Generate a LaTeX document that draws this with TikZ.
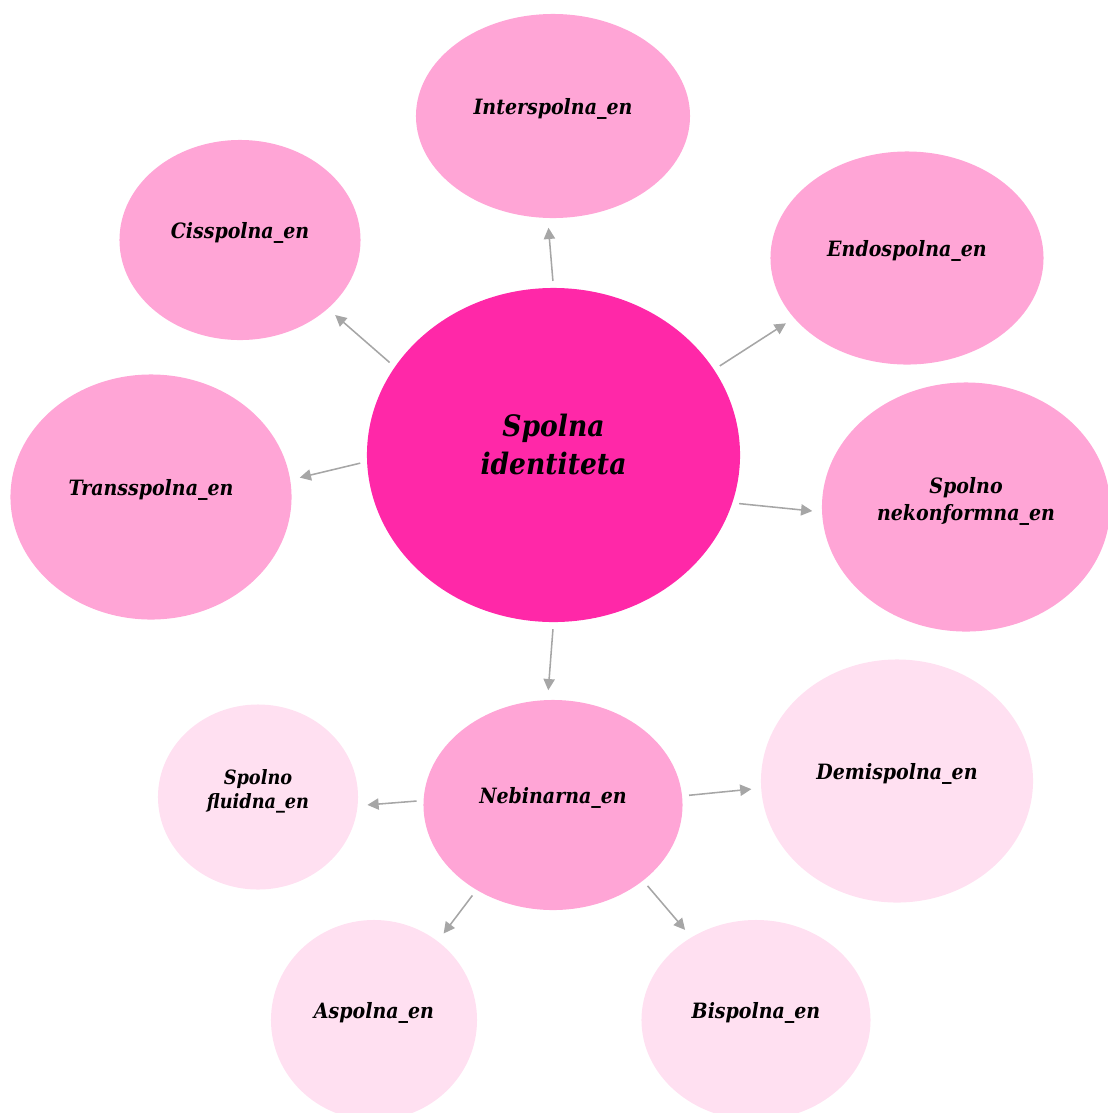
\documentclass[tikz,border=0pt]{standalone}
\usepackage{fontspec}
\setmainfont{DejaVu Serif}[FakeStretch=0.9]
\usetikzlibrary{shapes.geometric,arrows.meta}
\definecolor{rozaT}{HTML}{FF28A8}
\definecolor{rozaS}{HTML}{FFA5D6}
\definecolor{rozaB}{HTML}{FFE0F1}
\definecolor{sivo}{HTML}{A6A6A6}
\newcommand{\gor}[2][1.6pt]{\raisebox{#1}[0pt][0pt]{\begin{tabular}{@{}c@{}}#2\end{tabular}}}

\begin{document}
\begin{tikzpicture}[x=0.025cm, y=-0.025cm]
\tikzset{bulle/.style={ellipse, inner sep=0pt, outer sep=0pt, fill=rozaS, font=\fontsize{15}{19}\selectfont\bfseries\itshape},
fleche/.style={draw=sivo, line width=1.1pt, -{Triangle[length=8pt, width=8pt]}, shorten <=5pt, shorten >=7pt}}
\useasboundingbox (0,0) rectangle (1107,1113);
\node[bulle, fill=rozaT, minimum width=9.325cm, minimum height=8.35cm, font=\fontsize{21}{27}\selectfont\bfseries\itshape] (Sid) at (553.5,455) {\gor[0pt]{Spolna\\ identiteta}};
\node[bulle, minimum width=6.85cm, minimum height=5.1cm] (Int) at (553,116) {\gor{Interspolna\_en}};
\node[bulle, minimum width=6.025cm, minimum height=5cm] (Cis) at (240,240) {\gor{Cisspolna\_en}};
\node[bulle, minimum width=6.825cm, minimum height=5.325cm] (End) at (907,258) {\gor{Endospolna\_en}};
\node[bulle, minimum width=7.025cm, minimum height=6.125cm] (Tra) at (151,497) {\gor{Transspolna\_en}};
\node[bulle, minimum width=7.2cm, minimum height=6.225cm] (Nek) at (966,507) {\gor[0pt]{Spolno\\ nekonformna\_en}};
\node[bulle, minimum width=6.475cm, minimum height=5.25cm] (Neb) at (553,805) {\gor{Nebinarna\_en}};
\node[bulle, fill=rozaB, minimum width=5cm, minimum height=4.625cm, font=\fontsize{14}{17}\selectfont\bfseries\itshape] (Flu) at (258,797) {\gor[0pt]{Spolno\\ fluidna\_en}};
\node[bulle, fill=rozaB, minimum width=6.8cm, minimum height=6.075cm] (Dem) at (897,781) {\gor{Demispolna\_en}};
\node[bulle, fill=rozaB, minimum width=5.15cm, minimum height=5cm] (Asp) at (374,1020) {\gor{Aspolna\_en}};
\node[bulle, fill=rozaB, minimum width=5.725cm, minimum height=5cm] (Bis) at (756,1020) {\gor{Bispolna\_en}};
\draw[fleche] (Sid.90) -- (Int.267);
\draw[fleche] (Sid.151) -- (Cis.-38);
\draw[fleche] (Sid.28) -- (End.208);
\draw[fleche] (Sid.182.6) -- (Tra.7.6);
\draw[fleche] (Sid.-15) -- (Nek.182);
\draw[fleche] (Sid.-90) -- (Neb.93);
\draw[fleche] (Neb.178) -- (Flu.-5);
\draw[fleche] (Neb.4) -- (Dem.183);
\draw[fleche] (Neb.228) -- (Asp.51);
\draw[fleche] (Neb.-40) -- (Bis.128);
\end{tikzpicture}
\end{document}
